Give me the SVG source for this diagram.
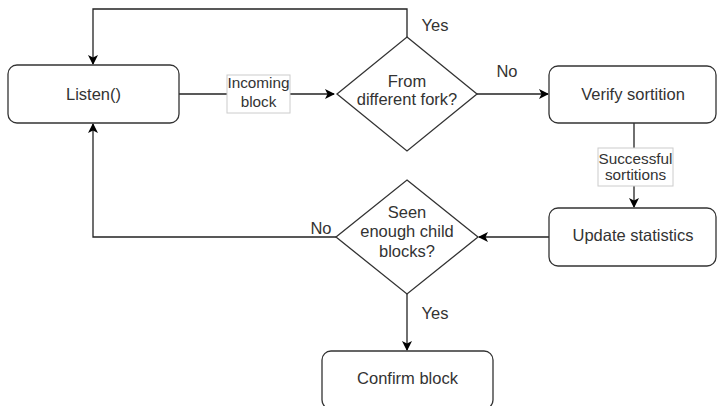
<svg xmlns="http://www.w3.org/2000/svg" width="717" height="406" viewBox="0 0 717 406">
<style>
.node{fill:#fff;stroke:#333;stroke-width:1.3}
.t{font-family:"Liberation Sans",Arial,sans-serif;font-size:16.5px;fill:#333;text-anchor:middle}
.lt{font-family:"Liberation Sans",Arial,sans-serif;font-size:15.3px;fill:#333;text-anchor:middle}
.edge{fill:none;stroke:#222;stroke-width:1.3}
.lbl{fill:#fff;stroke:#ccc;stroke-width:1}
</style>
<defs>
<marker id="arr" viewBox="0 0 10 10" refX="9" refY="5" markerWidth="10" markerHeight="10" markerUnits="userSpaceOnUse" orient="auto">
<path d="M0,0 L10,5 L0,10 L2.5,5 Z" fill="#000"/>
</marker>
</defs>
<rect width="717" height="406" fill="#fff"/>
<g id="connectors">
<path class="edge" d="M407,37 V9 H93 V64" marker-end="url(#arr)"/>
<path class="edge" d="M179,94 H334" marker-end="url(#arr)"/>
<path class="edge" d="M477,94 H548" marker-end="url(#arr)"/>
<path class="edge" d="M634,123 V207" marker-end="url(#arr)"/>
<path class="edge" d="M549,237 H479" marker-end="url(#arr)"/>
<path class="edge" d="M336,237 H93 V124" marker-end="url(#arr)"/>
<path class="edge" d="M407,294 V350" marker-end="url(#arr)"/>
<rect class="lbl" x="227" y="75" width="63" height="38"/>
<text class="lt" x="258.5" y="88">Incoming</text>
<text class="lt" x="258.5" y="107">block</text>
<rect class="lbl" x="598" y="148" width="75" height="38"/>
<text class="lt" x="635.5" y="164">Successful</text>
<text class="lt" x="635.5" y="180">sortitions</text>
<text class="t" x="435" y="31">Yes</text>
<text class="t" x="507" y="77">No</text>
<text class="t" x="321" y="234">No</text>
<text class="t" x="435" y="319">Yes</text>
</g>
<g id="listen">
<rect class="node" x="8" y="65" width="171" height="58" rx="9"/>
<text class="t" x="93.5" y="100">Listen()</text>
</g>
<g id="fork">
<path class="node" d="M407,37 L477,94 L407,151 L337,94 Z"/>
<text class="t" x="407" y="87">From</text>
<text class="t" x="407" y="105">different fork?</text>
</g>
<g id="verify">
<rect class="node" x="549" y="66" width="167" height="57" rx="9"/>
<text class="t" x="633" y="100">Verify sortition</text>
</g>
<g id="update">
<rect class="node" x="549" y="208" width="167" height="58" rx="9"/>
<text class="t" x="633" y="241">Update statistics</text>
</g>
<g id="seen">
<path class="node" d="M407,180 L478,237 L407,294 L336,237 Z"/>
<text class="t" x="407" y="218">Seen</text>
<text class="t" x="407" y="237">enough child</text>
<text class="t" x="407" y="257">blocks?</text>
</g>
<g id="confirm">
<rect class="node" x="322" y="351" width="171" height="58" rx="9"/>
<text class="t" x="407.5" y="384">Confirm block</text>
</g>
</svg>
